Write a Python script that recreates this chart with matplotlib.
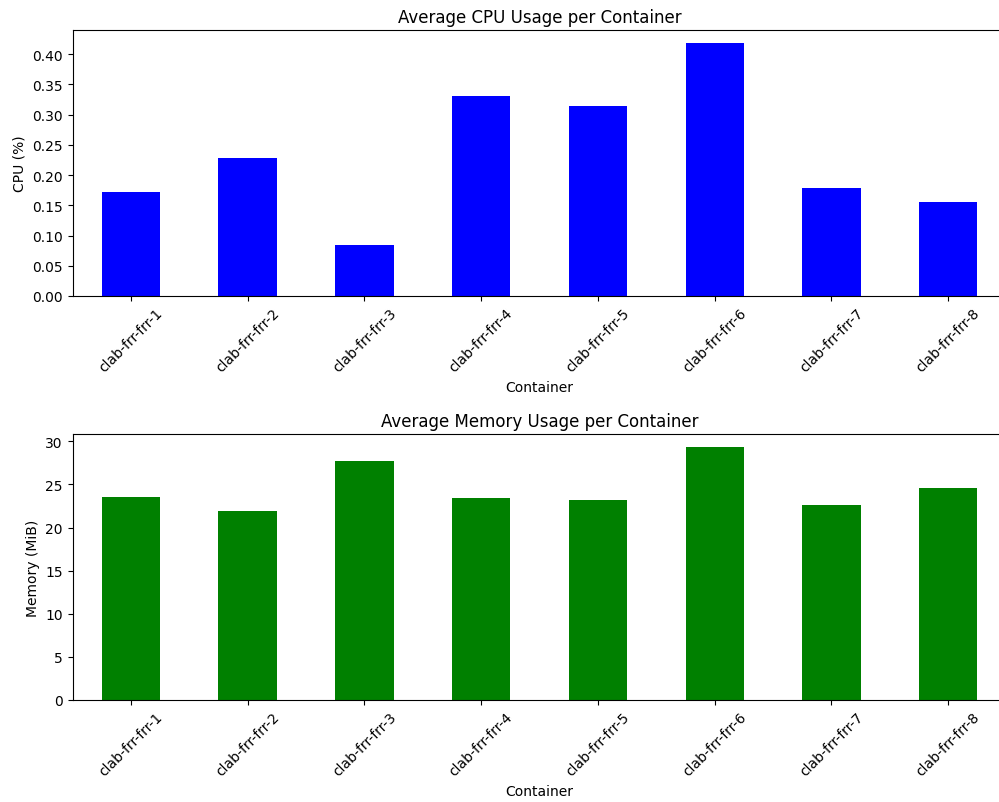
import matplotlib
matplotlib.use("Agg")
import matplotlib.pyplot as plt
from matplotlib.ticker import MultipleLocator
import numpy as np

containers = [f"clab-frr-frr-{i}" for i in range(1, 9)]
cpu_values = [0.172, 0.229, 0.084, 0.3305, 0.315, 0.419, 0.179, 0.156]
mem_values = [23.53, 21.87, 27.69, 23.41, 23.14, 29.38, 22.56, 24.61]

W, H = 999, 803
fig = plt.figure(figsize=(W / 100, H / 100), dpi=100)
left = 72.5 / W
width = (1006.6 - 72.5) / W
ax1 = fig.add_axes([left, 1 - 297 / H, width, (297 - 31) / H])
ax2 = fig.add_axes([left, 1 - 701 / H, width, (701 - 435) / H])

x = np.arange(len(containers))
ax1.bar(x, cpu_values, width=0.5, color="blue")
ax1.set_xticks(x)
ax1.set_xticklabels(containers, rotation=45)
ax1.set_xlim(-0.5, len(containers) - 0.5)
ax1.yaxis.set_major_locator(MultipleLocator(0.05))
ax1.set_title("Average CPU Usage per Container")
ax1.set_xlabel("Container")
ax1.set_ylabel("CPU (%)")

ax2.bar(x, mem_values, width=0.5, color="green")
ax2.set_xticks(x)
ax2.set_xticklabels(containers, rotation=45)
ax2.set_xlim(-0.5, len(containers) - 0.5)
ax2.set_title("Average Memory Usage per Container")
ax2.set_xlabel("Container")
ax2.set_ylabel("Memory (MiB)")

fig.savefig("out.png", dpi=100)
